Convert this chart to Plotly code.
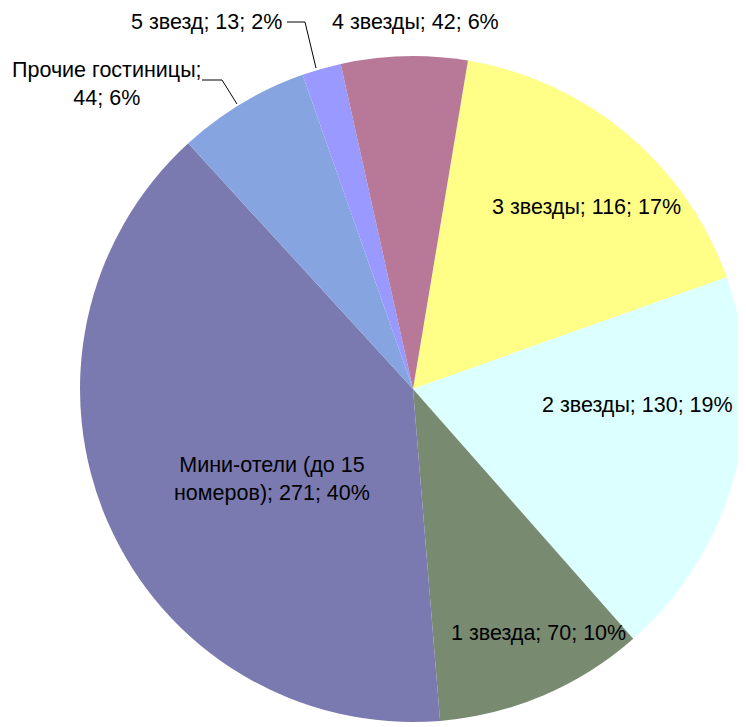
import plotly.graph_objects as go

# ---- data ----
labels = ["3 звезды", "2 звезды", "1 звезда", "Мини-отели (до 15 номеров)",
          "Прочие гостиницы", "5 звезд", "4 звезды"]
values = [116, 130, 70, 271, 44, 13, 42]
percents = [17, 19, 10, 40, 6, 2, 6]

# ---- styling ----
colors = ["#ffff88", "#dcffff", "#788b71", "#7a7ab0", "#86a4e0", "#9999ff", "#b87898"]
label_lines = ["3 звезды", "2 звезды", "1 звезда", "Мини-отели (до 15<br>номеров)",
               "Прочие гостиницы;<br>", "5 звезд", "4 звезды"]
# label centres in page pixels
label_pos = [(586, 207, "center"), (637, 405, "center"), (538, 633, "center"),
             (272, 479, "center"), (107, 84, "center"), (284, 22, "right"),
             (415, 22, "center")]

OFF = 8  # default body margin of the page
W, H = 746 - OFF, 727 - OFF
ML, MR, MT, MB = 80 - OFF, 0, 55 - OFF, 4
PW, PH = W - ML - MR, H - MT - MB


def px(x, y):
    x -= OFF
    y -= OFF
    return (x - ML) / PW, 1 - (y - MT) / PH


fig = go.Figure(go.Pie(
    labels=labels, values=values, sort=False, direction="clockwise",
    rotation=9.5, textinfo="none", hoverinfo="label+value+percent",
    marker=dict(colors=colors, line=dict(width=0)), showlegend=False,
))

annotations = []
for name, v, p, (x, y, anc) in zip(label_lines, values, percents, label_pos):
    if name.endswith("<br>"):
        text = f"{name}{v}; {p}%"
    else:
        text = f"{name}; {v}; {p}%"
    xp, yp = px(x, y)
    annotations.append(dict(x=xp, y=yp, xref="paper", yref="paper", text=text,
                            showarrow=False, xanchor=anc, yanchor="middle",
                            align="center",
                            font=dict(family="Liberation Sans, Arial", size=21.5, color="#000")))

shapes = []
for (x0, y0, x1, y1) in [(287, 22, 305, 22), (305, 22, 316, 68),
                         (202, 80, 222, 80), (222, 80, 237, 104)]:
    a = px(x0, y0)
    b = px(x1, y1)
    shapes.append(dict(type="line", xref="paper", yref="paper", x0=a[0], y0=a[1],
                       x1=b[0], y1=b[1], line=dict(color="#000", width=1)))

fig.update_layout(
    width=W, height=H, margin=dict(l=ML, r=MR, t=MT, b=MB),
    paper_bgcolor="white", plot_bgcolor="white",
    annotations=annotations, shapes=shapes,
)
fig.write_html("out.html")
